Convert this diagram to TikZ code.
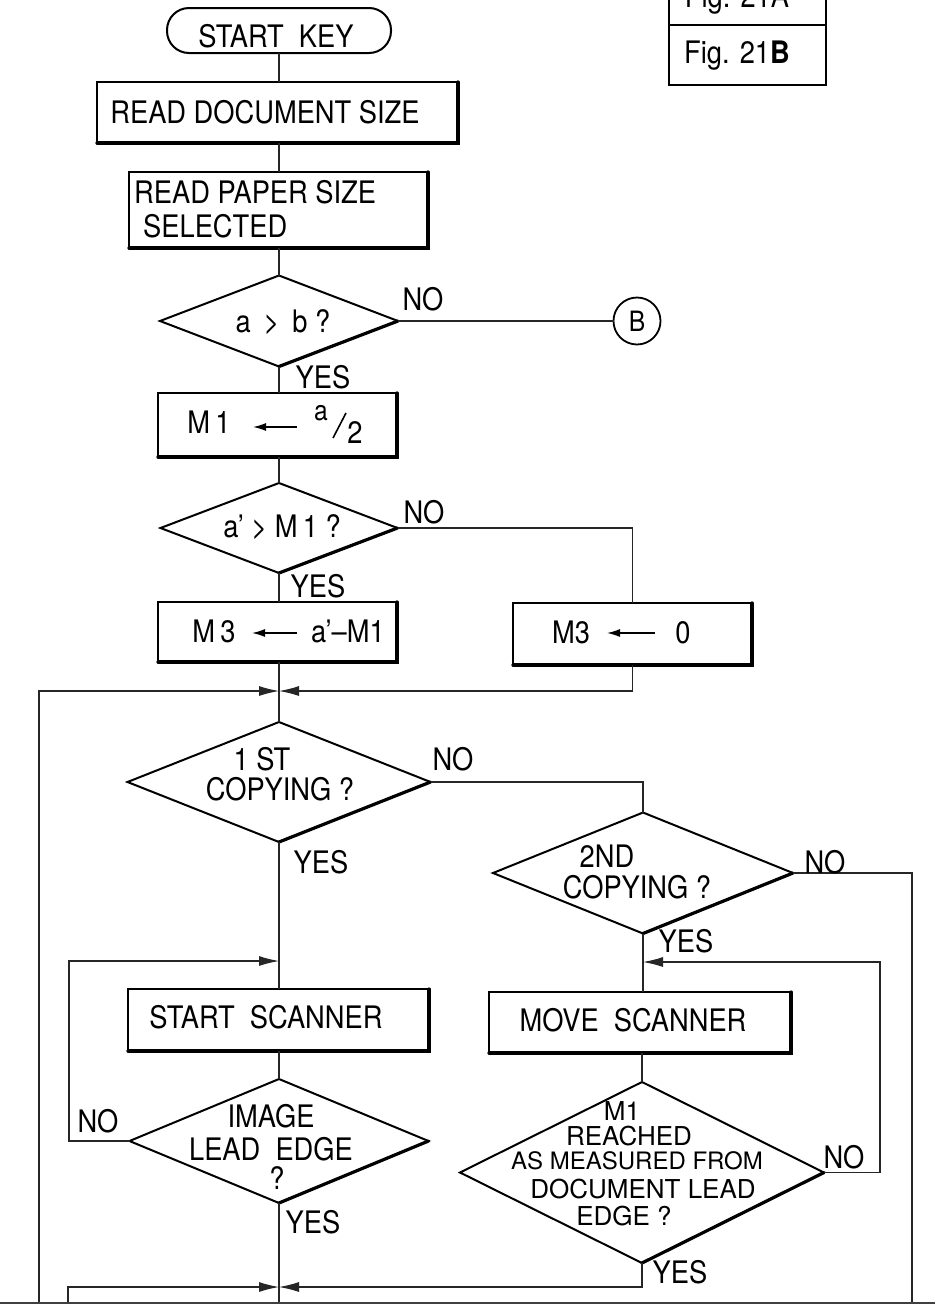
\documentclass[tikz,border=0pt]{standalone}
\usepackage{fontspec}
\setmainfont{TeX Gyre Heros}
\newfontfamily\tallfont{TeX Gyre Heros}[FakeStretch=0.88]
\usetikzlibrary{shapes.geometric,arrows.meta}
\begin{document}
\begin{tikzpicture}[x=1pt,y=-1pt,
  conn/.style={line width=1.1pt, black!85},
  tip/.style={-{Latex[length=20pt,width=10pt]}},
  box/.style={draw, rectangle, line width=2pt, inner sep=0pt, outer sep=0pt},
  dia/.style={draw, diamond, line width=2pt, inner sep=0pt, outer sep=0pt},
  txt/.style={inner sep=0pt, anchor=base, font=\tallfont\fontsize{31}{34}\selectfont},
  stxt/.style={inner sep=0pt, anchor=base, font=\fontsize{26}{30}\selectfont},
  heavy/.style={line width=3.2pt, line cap=round},
  inarrow/.style={line width=1.4pt, {Latex[length=13pt,width=8pt]}-},
]
\fill[white] (0,0) rectangle (935,1307);
\path[use as bounding box, clip] (0,0) rectangle (935,1307);

% figure index box
\draw[line width=2pt] (669,-10) -- (669,85) -- (826,85) -- (826,-10);
\draw[line width=2pt] (669,25) -- (826,25);
\node[txt] (figA) at (737,7) {Fig. 21A};
\node[txt] (figB) at (737,63) {Fig. 21\textbf{B}};

% shapes
\node[box, rounded corners=22pt, minimum width=224pt, minimum height=45pt] (start) at (279,30.5) {};
\node[box, minimum width=361pt, minimum height=61pt] (rd) at (277.5,112.5) {};
\node[box, minimum width=299pt, minimum height=76pt] (rp) at (278.5,210) {};
\node[dia, minimum width=238pt, minimum height=91pt] (d1) at (279,321) {};
\node[draw, circle, line width=1.8pt, minimum size=47pt, inner sep=0pt, outer sep=0pt,
      font=\tallfont\fontsize{28}{30}\selectfont] (cb) at (637,321) {B};
\node[box, minimum width=239pt, minimum height=64pt] (m1) at (277.5,425) {};
\node[dia, minimum width=237pt, minimum height=90pt] (d2) at (279,528) {};
\node[box, minimum width=239pt, minimum height=60pt] (m3a) at (277.5,632) {};
\node[box, minimum width=239pt, minimum height=62pt] (m3b) at (632.5,634) {};
\coordinate (j1) at (279,691);
\node[dia, minimum width=303pt, minimum height=120pt] (d3) at (279,782) {};
\node[dia, minimum width=300pt, minimum height=121pt] (d4) at (643,873) {};
\node[box, minimum width=301pt, minimum height=62pt] (ss) at (278.5,1020) {};
\node[box, minimum width=302pt, minimum height=61pt] (ms) at (640,1022.5) {};
\node[dia, minimum width=299pt, minimum height=124pt] (d5) at (279,1141) {};
\node[dia, minimum width=364pt, minimum height=181pt] (d6) at (642,1172.5) {};
\coordinate (j2) at (279,1287);
\coordinate (ol) at (39,1303);
\coordinate (il) at (68,1303);
\coordinate (lt) at (69,961);
\coordinate (rt) at (880,962);
\coordinate (rr) at (912,1303);

% heavy lower/right edges
\foreach \n in {rd,rp,m1,m3a,m3b,ss,ms}
  \draw[heavy] (\n.north east) -- (\n.south east) -- (\n.south west);
\foreach \n in {d1,d2,d3,d4,d5,d6}
  \draw[heavy] (\n.east) -- (\n.south);

% connectors
\draw[conn] (d1.north |- start.south) -- (d1.north |- rd.north);
\draw[conn] (d1.north |- rd.south) -- (d1.north |- rp.north);
\draw[conn] (d1.north |- rp.south) -- (d1.north);
\draw[conn] (d1.east) -- (cb.west);
\draw[conn] (d1.south) -- (d1.south |- m1.north);
\draw[conn] (d1.south |- m1.south) -- (d2.north);
\draw[conn] (d2.south) -- (d2.south |- m3a.north);
\draw[conn] (d2.east) -| (m3b.north);
\draw[conn] (d2.south |- m3a.south) -- (d3.north);
\draw[conn,tip] (m3b.south) |- (j1);
\draw[conn,tip] (ol) |- (j1);
\draw[conn] (d3.east) -| (d4.north);
\draw[conn] (d3.south) -- (d3.south |- ss.north);
\draw[conn,tip] (d5.west) -| (lt) -- (d5.north |- lt);
\draw[conn] (d5.north |- ss.south) -- (d5.north);
\draw[conn] (d5.south) -- (d5.south |- ol);
\draw[conn,tip] (d6.south) |- (j2);
\draw[conn,tip] (il) |- (j2);
\draw[conn] (d4.south) -- (d4.south |- ms.north);
\draw[conn] (d6.north |- ms.south) -- (d6.north);
\draw[conn,tip] (d6.east) -| (rt) -- (d4.south |- rt);
\draw[conn] (d4.east) -| (rr);
\draw[line width=1.6pt, black!75] (0,1303) -- (935,1303);

% texts
\node[txt] (tstart) at (276,47) {START\ \ KEY};
\node[txt] (trd) at (265,123) {READ DOCUMENT SIZE};
\node[txt, anchor=base west] (trp1) at (134,203) {READ PAPER SIZE};
\node[txt, anchor=base west] (trp2) at (143,237) {SELECTED};
\node[txt] (td1) at (283,332) {a\ \,>\ \,b ?};
\node[txt] (no1) at (423,310) {NO};
\node[txt] (yes1) at (323,388) {YES};
\node[txt] (tm1) at (209,433) {M\,1};
\draw[inarrow] (253,427) -- (297,427);
\node[txt, font=\tallfont\fontsize{28}{30}\selectfont] (tm1a) at (321,420) {a};
\draw[line width=1.6pt] (333,438) -- (346,413);
\node[txt] (tm1b) at (355,443) {2};
\node[txt] (td2) at (282,537) {a’ > M\,1 ?};
\node[txt] (no2) at (424,523) {NO};
\node[txt] (yes2) at (318,597) {YES};
\node[txt] (tm3a) at (214,642) {M\,3};
\draw[inarrow] (252,633) -- (297,633);
\node[txt] (tm3b) at (348,642) {a’–M1};
\node[txt] (tm3c) at (571,643) {M3};
\draw[inarrow] (607,633) -- (655,633);
\node[txt] (tm3d) at (683,643) {0};

\node[txt] (t1st) at (262,770) {1 ST};
\node[txt] (t1cp) at (280,800) {COPYING ?};
\node[txt] (no3) at (453,770) {NO};
\node[txt] (yes3) at (321,873) {YES};
\node[txt] (t2nd) at (607,867) {2ND};
\node[txt] (t2cp) at (637,898) {COPYING ?};
\node[txt] (no4) at (825,873) {NO};
\node[txt] (yes4) at (686,952) {YES};
\node[txt] (tss) at (266,1028) {START\ \ SCANNER};
\node[txt] (tms) at (633,1031) {MOVE\ \ SCANNER};
\node[txt] (tim1) at (271,1127) {IMAGE};
\node[txt] (tim2) at (271,1160) {LEAD\ \ EDGE};
\node[txt] (tim3) at (277,1189) {?};
\node[txt] (no5) at (98,1132) {NO};
\node[txt] (yes5) at (313,1233) {YES};
\node[stxt] (tr1) at (622,1120) {M1};
\node[stxt] (tr2) at (629,1145) {REACHED};
\node[stxt, font=\fontsize{24}{28}\selectfont] (tr3) at (637,1169) {AS MEASURED FROM};
\node[stxt] (tr4) at (643,1198) {DOCUMENT LEAD};
\node[stxt] (tr5) at (624,1225) {EDGE ?};
\node[txt] (no6) at (844,1168) {NO};
\node[txt] (yes6) at (680,1283) {YES};
\end{tikzpicture}
\end{document}
